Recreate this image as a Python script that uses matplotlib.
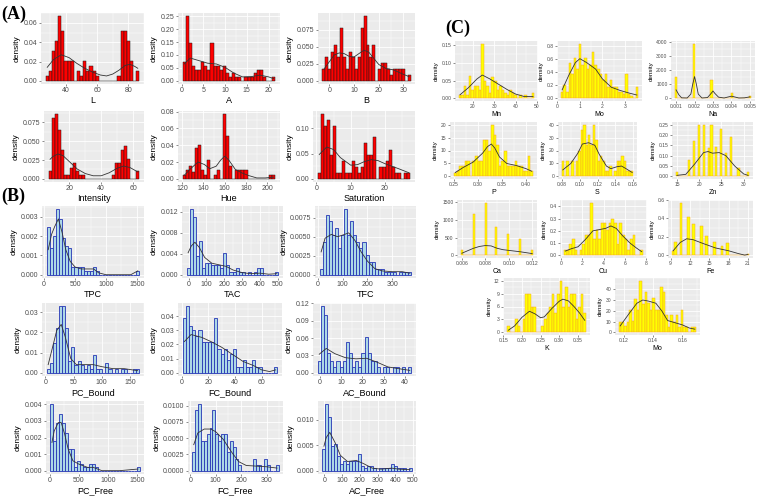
import numpy as np
import matplotlib
matplotlib.use("Agg")
import matplotlib.pyplot as plt
from matplotlib.ticker import MultipleLocator, FormatStrFormatter

plt.rcParams['font.family'] = ['Liberation Sans', 'DejaVu Sans']

# ---------------- (A) colour parameters ----------------
L_h = [0.005, 0.010, 0.031, 0.041, 0.067, 0.052, 0.021, 0.021, 0.021, 0.0, 0.010, 0.005, 0.021, 0.010, 0.015,
       0.010, 0.005, 0, 0, 0, 0, 0, 0, 0.005, 0.052, 0.052, 0.041, 0.021, 0.0, 0.010]
L_rng = (28, 86)
L_kx = [28, 32, 37, 42, 47, 52, 57, 62, 66, 70, 74, 78, 81, 84, 86]
L_ky = [0.014, 0.022, 0.027, 0.024, 0.018, 0.013, 0.009, 0.006, 0.005, 0.007, 0.011, 0.016, 0.017, 0.015, 0.013]

A_h = [0.072, 0.25, 0.145, 0.058, 0.043, 0.043, 0.072, 0.058, 0.043, 0.145, 0.058, 0.058, 0.043, 0.058, 0.029,
       0.014, 0.029, 0.014, 0.014, 0.0, 0.014, 0.014, 0.014, 0.029, 0.043, 0.043, 0.014, 0.0, 0.0, 0.014]
A_rng = (0.6, 21.2)
A_kx = [0.6, 2, 4, 6, 8, 10, 12, 14, 16, 18, 20, 21.2]
A_ky = [0.065, 0.088, 0.078, 0.068, 0.065, 0.052, 0.03, 0.015, 0.016, 0.022, 0.015, 0.008]

B_h = [0.017, 0.035, 0.017, 0.043, 0.052, 0.035, 0.078, 0.035, 0.017, 0.043, 0.035, 0.017, 0.035, 0.078, 0.095,
       0.052, 0.035, 0.052, 0.0, 0.017, 0.026, 0.026, 0.017, 0.009, 0.017, 0.017, 0.017, 0.017, 0.0, 0.009]
B_rng = (-2.2, 32.3)
B_kx = [-2.2, 0, 2, 4, 6, 8, 10, 12, 14, 16, 18, 20, 23, 26, 29, 32.3]
B_ky = [0.017, 0.028, 0.038, 0.041, 0.040, 0.036, 0.035, 0.040, 0.045, 0.042, 0.033, 0.024, 0.018, 0.016, 0.011, 0.006]

Int_h = [0.010, 0.081, 0.086, 0.065, 0.038, 0.005, 0.005, 0.015, 0.021, 0.010, 0.005, 0.005, 0, 0, 0,
         0, 0, 0, 0, 0, 0, 0.005, 0.021, 0.021, 0.038, 0.043, 0.027, 0.0, 0.0, 0.010]
Int_rng = (8, 63)
Int_kx = [8, 10, 13, 16, 20, 25, 30, 35, 40, 45, 50, 54, 58, 63]
Int_ky = [0.026, 0.030, 0.033, 0.031, 0.023, 0.013, 0.007, 0.004, 0.004, 0.008, 0.014, 0.017, 0.015, 0.009]

Hue_h = [0.004, 0.011, 0.015, 0.008, 0.037, 0.040, 0.011, 0.004, 0.022, 0.0, 0.004, 0.011, 0.0, 0.077, 0.051,
         0.015, 0.0, 0.011, 0.011, 0.011, 0.011, 0, 0, 0, 0, 0, 0, 0, 0.004, 0.004]
Hue_rng = (122, 206)
Hue_kx = [122, 128, 135, 141, 146, 152, 156, 160, 164, 170, 176, 182, 190, 198, 206]
Hue_ky = [0.004, 0.012, 0.020, 0.017, 0.012, 0.015, 0.022, 0.027, 0.022, 0.011, 0.007, 0.004, 0.001, 0.001, 0.002]

Sat_h = [0.012, 0.128, 0.105, 0.116, 0.047, 0.105, 0.012, 0.012, 0.035, 0.012, 0.012, 0.035, 0.023, 0.012, 0.023,
         0.070, 0.047, 0.047, 0.082, 0.0, 0.023, 0.023, 0.035, 0.058, 0.023, 0.012, 0.012, 0.0, 0.012, 0.012]
Sat_rng = (0.8, 27)
Sat_kx = [0.8, 3, 5, 7, 10, 12, 14, 16, 18, 20, 22, 24, 27]
Sat_ky = [0.048, 0.063, 0.058, 0.042, 0.027, 0.028, 0.034, 0.038, 0.036, 0.03, 0.025, 0.02, 0.012]

# ---------------- (B) phenolics ----------------
TPC_h = [0.0025, 0.0014, 0.0020, 0.0034, 0.0029, 0.0019, 0.0015, 0.0014, 0.0004, 0.0004, 0.0004, 0.0004, 0.0002,
         0.0002, 0.0002, 0.0004, 0.0002, 0, 0, 0, 0, 0, 0, 0, 0, 0, 0, 0, 0, 0.0002]
TPC_rng = (65, 1515)
TPC_kx = [65, 120, 170, 230, 290, 350, 420, 500, 600, 700, 800, 880, 1000, 1200, 1400, 1515]
TPC_ky = [0.0013, 0.0021, 0.0025, 0.0029, 0.0022, 0.0013, 0.0007, 0.0004, 0.0003, 0.0003, 0.0003, 0.0001, 0.0,
          0.0, 0.0, 0.0002]

TAC_h = [0.0012, 0.0125, 0.0110, 0.0035, 0.0065, 0.0012, 0.0023, 0.0023, 0.0018, 0.0018, 0.0018, 0.0012, 0.0041,
         0.0018, 0.0006, 0.0006, 0.0012, 0.0006, 0.0006, 0, 0.0006, 0, 0.0006, 0.0012, 0.0012, 0, 0, 0, 0, 0.0006]
TAC_rng = (-3, 496)
TAC_kx = [-3, 15, 35, 60, 90, 130, 170, 210, 250, 300, 350, 400, 450, 496]
TAC_ky = [0.0042, 0.0055, 0.0062, 0.0052, 0.0033, 0.0022, 0.0019, 0.0016, 0.0009, 0.0004, 0.0002, 0.0003, 0.0001,
          0.0002]

TFC_h = [0.0008, 0.0043, 0.0078, 0.0070, 0.0052, 0.0061, 0.0035, 0.0052, 0.0086, 0.0052, 0.0070, 0.0052, 0.0043,
         0.0035, 0.0043, 0.0026, 0.0017, 0.0017, 0.0008, 0.0008, 0.0008, 0.0004, 0.0004, 0.0004, 0.0004, 0.0,
         0.0004, 0.0004, 0.0004, 0.0004]
TFC_rng = (14, 371)
TFC_kx = [14, 30, 55, 80, 100, 125, 150, 175, 200, 230, 260, 300, 340, 371]
TFC_ky = [0.003, 0.0048, 0.0053, 0.005, 0.0052, 0.0055, 0.0045, 0.003, 0.0018, 0.0008, 0.0005, 0.0004, 0.0004,
          0.0002]

PCB_h = [0.002, 0.005, 0.015, 0.022, 0.033, 0.033, 0.022, 0.006, 0.013, 0.004, 0.006, 0.004, 0.002, 0.004, 0.002,
         0.009, 0.002, 0.002, 0.0, 0.005, 0.002, 0.0, 0.002, 0.0, 0.002, 0.002, 0.0, 0.0, 0.002, 0.002]
PCB_rng = (4.8, 164.3)
PCB_kx = [4.8, 12, 20, 28, 35, 45, 55, 70, 85, 100, 120, 140, 164]
PCB_ky = [0.004, 0.012, 0.021, 0.024, 0.018, 0.007, 0.004, 0.004, 0.004, 0.003, 0.002, 0.002, 0.001]

FCB_h = [0.039, 0.047, 0.033, 0.030, 0.026, 0.030, 0.022, 0.022, 0.022, 0.022, 0.039, 0.017, 0.013, 0.017, 0.009,
         0.013, 0.017, 0.004, 0.004, 0.009, 0.004, 0.004, 0.009, 0.004, 0.004, 0, 0, 0, 0, 0.004]
FCB_rng = (1.9, 70.6)
FCB_kx = [1.9, 7, 15, 22, 30, 38, 46, 54, 60, 66, 70.6]
FCB_ky = [0.022, 0.027, 0.025, 0.022, 0.018, 0.013, 0.008, 0.005, 0.002, 0.0008, 0.002]

ACB_h = [0.02, 0.115, 0.10, 0.034, 0.02, 0.01, 0.02, 0.01, 0.02, 0.054, 0.034, 0.01, 0.02, 0.01, 0.034,
         0.062, 0.034, 0.02, 0.02, 0.01, 0.0, 0.01, 0.01, 0.0, 0.01, 0.01, 0.0, 0.01, 0.0, 0.01]
ACB_rng = (-0.3, 42.3)
ACB_kx = [-0.3, 3, 7, 12, 17, 22, 27, 32, 37, 42.3]
ACB_ky = [0.032, 0.042, 0.033, 0.026, 0.024, 0.025, 0.018, 0.01, 0.007, 0.004]

PCF_h = [0.0040, 0.0018, 0.0029, 0.0034, 0.0029, 0.0023, 0.0013, 0.0013, 0.0002, 0.0006, 0.0004, 0.0002, 0.0002,
         0.0004, 0.0004, 0.0002, 0, 0, 0, 0, 0, 0, 0, 0, 0, 0, 0, 0, 0, 0.0002]
PCF_rng = (41, 1520)
PCF_kx = [41, 80, 150, 200, 260, 320, 400, 500, 650, 750, 900, 1200, 1520]
PCF_ky = [0.0017, 0.0024, 0.0029, 0.0029, 0.0022, 0.0013, 0.0006, 0.0004, 0.0002, 0.0002, 0.0, 0.0, 0.0001]

FCF_h = [0.0028, 0.0093, 0.0102, 0.0046, 0.0046, 0.0056, 0.0065, 0.0093, 0.0056, 0.0046, 0.0056, 0.0056, 0.0028,
         0.0046, 0.0037, 0.0018, 0.0009, 0.0, 0.0, 0.0, 0.0, 0.0018, 0.0009, 0.0009, 0.0, 0.0018, 0.0009, 0.0, 0.0,
         0.0009]
FCF_rng = (14, 341.7)
FCF_kx = [14, 30, 55, 80, 100, 130, 160, 190, 220, 260, 300, 341]
FCF_ky = [0.004, 0.0058, 0.0064, 0.0064, 0.006, 0.0048, 0.003, 0.0014, 0.0008, 0.0007, 0.0006, 0.0004]

ACF_h = [0.0043, 0.013, 0.0105, 0.0048, 0.0052, 0.0028, 0.0014, 0.0019, 0.0014, 0.0019, 0.0019, 0.0019, 0.0033,
         0.0009, 0.0005, 0.0009, 0.0009, 0.0005, 0.0, 0.0005, 0.0005, 0.0005, 0.0005, 0.0014, 0.0009, 0.0005,
         0.0005, 0.0005, 0.0, 0.0005]
ACF_rng = (-3, 484)
ACF_kx = [-3, 10, 30, 60, 90, 130, 180, 220, 270, 320, 380, 420, 484]
ACF_ky = [0.0048, 0.0065, 0.0075, 0.0055, 0.003, 0.0018, 0.002, 0.0014, 0.0005, 0.0003, 0.0005, 0.0003, 0.0002]

# ---------------- (C) minerals ----------------
Mn_h = [0.008, 0.008, 0.036, 0.008, 0.064, 0.024, 0.036, 0.036, 0.024, 0.155, 0.048, 0.036, 0.016, 0.060, 0.048,
        0.024, 0.036, 0.024, 0.016, 0.008, 0.024, 0.016, 0.008, 0.0, 0.008, 0.0, 0.008, 0.0, 0.0, 0.016]
Mn_rng = (14.1, 48.1)
Mn_kx = [14.1, 18, 22, 24.5, 28, 32, 36, 40, 44, 48.1]
Mn_ky = [0.01, 0.03, 0.055, 0.066, 0.055, 0.04, 0.025, 0.012, 0.005, 0.005]

Mo_h = [0.10, 0.20, 0.10, 0.55, 0.38, 0.62, 0.45, 0.84, 0.52, 0.62, 0.45, 0.52, 0.72, 0.52, 0.45, 0.38, 0.28,
        0.38, 0.17, 0.28, 0.17, 0.17, 0.10, 0.10, 0.07, 0.38, 0.07, 0.03, 0.0, 0.17]
Mo_rng = (0.21, 3.54)
Mo_kx = [0.21, 0.5, 0.8, 1.0, 1.3, 1.7, 2.0, 2.4, 2.8, 3.2, 3.54]
Mo_ky = [0.13, 0.35, 0.55, 0.61, 0.55, 0.45, 0.3, 0.17, 0.12, 0.08, 0.05]

Na_h = [1500, 0, 0, 0, 0, 0, 0, 3900, 0, 0, 0, 0, 0, 0, 1300, 0, 0, 0, 0, 0, 0, 0, 370, 0, 0, 0, 0, 0, 0, 130]
Na_rng = (0.001, 0.005)
Na_kx = [0.001, 0.00115, 0.0013, 0.0016, 0.0018, 0.0019, 0.002, 0.0021, 0.0022, 0.0024, 0.0027, 0.0029, 0.003,
         0.0031, 0.0033, 0.0036, 0.0039, 0.004, 0.0041, 0.0044, 0.0047, 0.005]
Na_ky = [600, 250, 30, 20, 300, 1000, 1550, 1000, 300, 20, 50, 350, 520, 350, 80, 20, 120, 150, 120, 20, 30, 100]

P_h = [1.5, 2, 4, 4, 6, 6, 0, 6, 8, 6, 6, 14, 14, 10, 20, 16, 12, 4, 6, 10, 4, 4, 4, 6, 4, 4, 2, 2, 8, 2]
P_rng = (0.253, 0.412)
P_kx = [0.253, 0.27, 0.29, 0.31, 0.32, 0.328, 0.335, 0.345, 0.36, 0.38, 0.40, 0.412]
P_ky = [1.5, 3.5, 5.5, 9, 11.5, 12.5, 11, 7.5, 5, 4.2, 3, 2]

S_h = [12, 0, 12, 0, 12, 0, 12, 20, 36, 40, 24, 32, 24, 40, 28, 12, 16, 12, 4, 4, 8, 0, 4, 12, 12, 16, 12, 4, 4, 4]
S_rng = (0.081, 0.159)
S_kx = [0.081, 0.09, 0.098, 0.103, 0.11, 0.117, 0.122, 0.13, 0.135, 0.142, 0.147, 0.152, 0.159]
S_ky = [5, 10, 18, 25, 26, 24, 17, 8, 6, 7.5, 8, 6, 3]

Zn_h = [0.02, 0, 0, 0, 0, 0.08, 0, 0.17, 0, 0.25, 0, 0.25, 0, 0.135, 0.25, 0, 0.14, 0, 0.23, 0, 0.115, 0, 0.19,
        0, 0, 0.04, 0, 0, 0, 0.02]
Zn_rng = (15, 31)
Zn_kx = [15, 17, 19, 21, 22, 23, 24.5, 26, 28, 30, 31]
Zn_ky = [0.005, 0.01, 0.06, 0.115, 0.12, 0.112, 0.115, 0.1, 0.05, 0.012, 0.005]

Ca_h = [160, 0, 0, 0, 0, 1170, 0, 0, 0, 0, 1480, 0, 0, 0, 800, 0, 0, 0, 0, 600, 0, 0, 0, 0, 450, 0, 0, 0, 0, 160]
Ca_rng = (0.006, 0.012)
Ca_kx = [0.006, 0.007, 0.0075, 0.008, 0.0085, 0.009, 0.0095, 0.010, 0.011, 0.012]
Ca_ky = [60, 200, 250, 275, 265, 200, 160, 140, 100, 50]

Cu_h = [0.04, 0.04, 0.09, 0.13, 0.04, 0.0, 0.04, 0.09, 0.17, 0.17, 0.43, 0.13, 0.21, 0.13, 0.26, 0.26, 0.21, 0.26,
        0.30, 0.26, 0.09, 0.26, 0.17, 0.13, 0.04, 0.13, 0.17, 0.0, 0.0, 0.04]
Cu_rng = (0.4, 7.6)
Cu_kx = [0.4, 1, 1.6, 2.3, 3, 3.6, 4.2, 4.7, 5.2, 5.8, 6.5, 7.1, 7.6]
Cu_ky = [0.035, 0.055, 0.07, 0.13, 0.2, 0.21, 0.22, 0.24, 0.22, 0.16, 0.1, 0.06, 0.03]

Fe_h = [0.05, 0.15, 0, 0.57, 0, 0, 0.42, 0, 0.34, 0, 0, 0.32, 0, 0.21, 0, 0, 0.15, 0, 0, 0.10, 0, 0.13, 0, 0, 0,
        0, 0, 0, 0, 0.02]
Fe_rng = (9.4, 21.0)
Fe_kx = [9.4, 10.5, 11.5, 12.5, 14, 16, 18, 19.5, 20.5, 21]
Fe_ky = [0.05, 0.14, 0.18, 0.17, 0.13, 0.08, 0.05, 0.02, 0.003, 0.01]

K_h = [1.5, 0, 0, 3, 1.5, 0, 3, 9, 9, 6, 6, 0, 0, 1.5, 3, 4.5, 6, 9, 4.5, 9, 12, 6, 10.5, 6, 9, 9, 3, 6, 9, 4.5]
K_rng = (0.163, 0.369)
K_kx = [0.163, 0.18, 0.20, 0.22, 0.235, 0.25, 0.26, 0.28, 0.30, 0.31, 0.325, 0.34, 0.355, 0.369]
K_ky = [0.5, 1.5, 3.5, 4.9, 4.3, 3.4, 3.6, 5.5, 7.2, 7.7, 7.3, 6.0, 4.5, 2.8]

Mo2_h = [10, 10, 6, 10, 21, 11, 31, 21, 48, 26, 37, 27, 21, 32, 21, 21, 42, 37, 16, 5, 16, 10, 16, 5, 21, 5, 5, 0,
         5, 5]
Mo2_rng = (0.1176, 0.1686)
Mo2_kx = [0.1176, 0.124, 0.129, 0.133, 0.137, 0.142, 0.146, 0.15, 0.155, 0.16, 0.165, 0.1686]
Mo2_ky = [6, 18, 27, 30, 29, 27, 20, 11, 9, 7, 4, 3]

W, H = 759, 497
fig = plt.figure(figsize=(W / 100, H / 100), dpi=100)

STYLES = {
    'A': dict(fill='#FF0000', edge='#1a1a1a', lw=0.35, tick=5.0, title=6.5),
    'B': dict(fill='#ADD8E6', edge='#2535B5', lw=0.6, tick=5.0, title=6.5),
    'C': dict(fill='#FFFF00', edge='#F5A623', lw=0.35, tick=3.6, title=5.0),
}


def hist_panel(box, h, rng, kx, ky, xlabel, xt, yt, yfmt, xfmt='%g', grp='A'):
    st = STYLES[grp]
    left, top, right, bottom = box
    ax = fig.add_axes([left / W, 1 - bottom / H, (right - left) / W, (bottom - top) / H])
    n = len(h)
    lo, hi = rng
    w = (hi - lo) / (n - 1)
    centers = lo + w * np.arange(n)
    ax.bar(centers, h, width=w, color=st['fill'], edgecolor=st['edge'], linewidth=st['lw'], zorder=2)
    ax.plot(kx, ky, color='#333333', lw=0.6, zorder=3)

    x0, x1 = lo - w / 2, hi + w / 2
    pad = 0.05 * (x1 - x0)
    ax.set_xlim(x0 - pad, x1 + pad)
    ymax = max(max(h), max(ky))
    ax.set_ylim(-0.05 * ymax, 1.05 * ymax)

    ax.set_xticks(xt)
    ax.set_yticks(yt)
    ax.xaxis.set_major_formatter(FormatStrFormatter(xfmt))
    ax.yaxis.set_major_formatter(FormatStrFormatter(yfmt))
    ax.xaxis.set_minor_locator(MultipleLocator((xt[1] - xt[0]) / 2))
    ax.yaxis.set_minor_locator(MultipleLocator((yt[1] - yt[0]) / 2))

    ax.set_facecolor('#EBEBEB')
    for s in ax.spines.values():
        s.set_visible(False)
    ax.grid(which='major', color='white', lw=0.6, zorder=0)
    ax.grid(which='minor', color='white', lw=0.3, zorder=0)
    ax.set_axisbelow(True)
    ax.tick_params(which='major', length=1.5, width=0.4, color='#333333',
                   labelsize=st['tick'], labelcolor='#4D4D4D', pad=1)
    ax.tick_params(which='minor', length=0)
    ax.set_xlabel(xlabel, fontsize=st['title'], labelpad=1.0)
    ax.set_ylabel('density', fontsize=st['title'] - 0.5, labelpad=2)
    return ax


# (A)
hist_panel((41, 13, 144, 84), L_h, L_rng, L_kx, L_ky, 'L', [40, 60, 80], [0, 0.02, 0.04, 0.06], '%.2f')
hist_panel((178, 13, 280, 84), A_h, A_rng, A_kx, A_ky, 'A', [0, 5, 10, 15, 20], [0, 0.05, 0.10, 0.15, 0.20, 0.25], '%.2f')
hist_panel((318, 13, 415, 84), B_h, B_rng, B_kx, B_ky, 'B', [0, 10, 20, 30], [0, 0.025, 0.05, 0.075], '%.3f')
hist_panel((44, 111, 144, 182), Int_h, Int_rng, Int_kx, Int_ky, 'Intensity', [20, 40, 60], [0, 0.025, 0.05, 0.075], '%.3f')
hist_panel((178, 111, 280, 182), Hue_h, Hue_rng, Hue_kx, Hue_ky, 'Hue', [120, 140, 160, 180, 200], [0, 0.02, 0.04, 0.06, 0.08], '%.2f')
hist_panel((313, 111, 415, 182), Sat_h, Sat_rng, Sat_kx, Sat_ky, 'Saturation', [0, 10, 20], [0, 0.05, 0.10], '%.2f')

# (B)
hist_panel((42, 206, 144, 278), TPC_h, TPC_rng, TPC_kx, TPC_ky, 'TPC', [0, 500, 1000, 1500], [0, 0.001, 0.002, 0.003], '%.3f', grp='B')
hist_panel((182, 206, 283, 278), TAC_h, TAC_rng, TAC_kx, TAC_ky, 'TAC', [0, 100, 200, 300, 400, 500], [0, 0.004, 0.008, 0.012], '%.3f', grp='B')
hist_panel((315, 206, 416, 278), TFC_h, TFC_rng, TFC_kx, TFC_ky, 'TFC', [0, 100, 200, 300], [0, 0.0025, 0.005, 0.0075], '%.4f', grp='B')
hist_panel((42, 303, 144, 376), PCB_h, PCB_rng, PCB_kx, PCB_ky, 'PC_Bound', [0, 50, 100, 150], [0, 0.01, 0.02, 0.03], '%.2f', grp='B')
hist_panel((178, 303, 282, 376), FCB_h, FCB_rng, FCB_kx, FCB_ky, 'FC_Bound', [0, 20, 40, 60], [0, 0.01, 0.02, 0.03, 0.04], '%.2f', grp='B')
hist_panel((313, 303, 416, 376), ACB_h, ACB_rng, ACB_kx, ACB_ky, 'AC_Bound', [0, 10, 20, 30, 40], [0, 0.03, 0.06, 0.09, 0.12], '%.2f', grp='B')
hist_panel((46, 401, 144, 474), PCF_h, PCF_rng, PCF_kx, PCF_ky, 'PC_Free', [0, 500, 1000, 1500], [0, 0.001, 0.002, 0.003, 0.004], '%.3f', grp='B')
hist_panel((188, 401, 283, 474), FCF_h, FCF_rng, FCF_kx, FCF_ky, 'FC_Free', [0, 100, 200, 300], [0, 0.0025, 0.005, 0.0075, 0.01], '%.4f', grp='B')
hist_panel((318, 401, 416, 474), ACF_h, ACF_rng, ACF_kx, ACF_ky, 'AC_Free', [0, 100, 200, 300, 400, 500], [0, 0.005, 0.010], '%.3f', grp='B')

# (C)
hist_panel((455, 41, 538, 101), Mn_h, Mn_rng, Mn_kx, Mn_ky, 'Mn', [20, 30, 40, 50], [0, 0.05, 0.10, 0.15], '%.2f', grp='C')
hist_panel((557, 41, 642, 101), Mo_h, Mo_rng, Mo_kx, Mo_ky, 'Mo', [0, 1, 2, 3], [0, 0.2, 0.4, 0.6, 0.8], '%.1f', grp='C')
hist_panel((671, 41, 755, 101), Na_h, Na_rng, Na_kx, Na_ky, 'Na', [0.001, 0.002, 0.003, 0.004, 0.005], [0, 1000, 2000, 3000, 4000], '%d', '%.3f', grp='C')
hist_panel((450, 122, 537, 179), P_h, P_rng, P_kx, P_ky, 'P', [0.25, 0.30, 0.35, 0.40], [0, 5, 10, 15, 20], '%d', '%.2f', grp='C')
hist_panel((558, 122, 637, 179), S_h, S_rng, S_kx, S_ky, 'S', [0.08, 0.10, 0.12, 0.14, 0.16], [0, 10, 20, 30, 40], '%d', '%.2f', grp='C')
hist_panel((672, 122, 753, 179), Zn_h, Zn_rng, Zn_kx, Zn_ky, 'Zn', [15, 20, 25, 30], [0, 0.05, 0.10, 0.15, 0.20, 0.25], '%.2f', grp='C')
hist_panel((457, 200, 537, 258), Ca_h, Ca_rng, Ca_kx, Ca_ky, 'Ca', [0.006, 0.008, 0.010, 0.012], [0, 500, 1000, 1500], '%d', '%.3f', grp='C')
hist_panel((560, 200, 647, 258), Cu_h, Cu_rng, Cu_kx, Cu_ky, 'Cu', [0, 2, 4, 6, 8], [0, 0.1, 0.2, 0.3, 0.4], '%.1f', grp='C')
hist_panel((668, 200, 753, 258), Fe_h, Fe_rng, Fe_kx, Fe_ky, 'Fe', [9, 12, 15, 18, 21], [0, 0.2, 0.4, 0.6], '%.1f', grp='C')
hist_panel((503, 278, 590, 335), K_h, K_rng, K_kx, K_ky, 'K', [0.15, 0.20, 0.25, 0.30, 0.35], [0, 3, 6, 9, 12], '%d', '%.2f', grp='C')
hist_panel((615, 278, 700, 335), Mo2_h, Mo2_rng, Mo2_kx, Mo2_ky, 'Mo', [0.12, 0.14, 0.16], [0, 10, 20, 30, 40], '%d', '%.2f', grp='C')

lab = dict(fontfamily=['Liberation Serif', 'DejaVu Serif'], fontweight='bold', fontsize=13, va='center', ha='left')
fig.text(1 / W, 1 - 14 / H, '(A)', **lab)
fig.text(1 / W, 1 - 196 / H, '(B)', **lab)
fig.text(445 / W, 1 - 28 / H, '(C)', **lab)

fig.savefig('out.png', dpi=100)
